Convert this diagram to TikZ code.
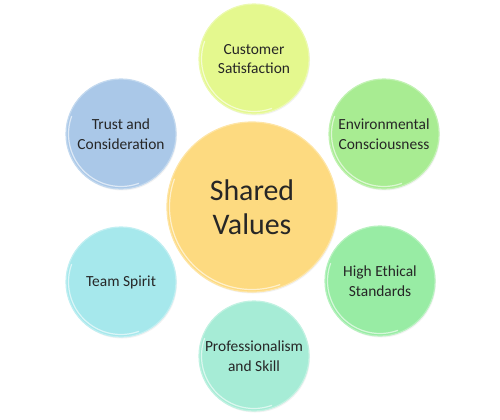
\documentclass[tikz,border=0pt]{standalone}
\usepackage{fontspec}
\setmainfont{Carlito}
\usetikzlibrary{shadows}
\definecolor{cCenter}{RGB}{253,218,128}
\definecolor{cCust}{RGB}{228,248,142}
\definecolor{cEnv}{RGB}{168,236,146}
\definecolor{cHigh}{RGB}{152,236,164}
\definecolor{cProf}{RGB}{166,236,214}
\definecolor{cTeam}{RGB}{166,232,236}
\definecolor{cTrust}{RGB}{170,200,232}
\tikzset{
  bubble/.style={circle, fill=#1, draw=#1!70!white, line width=1.2bp,
    minimum size=110bp, inner sep=0pt, align=center,
    font=\fontsize{15.5}{19.5}\selectfont, text=black!85,
    drop shadow={opacity=0.1, shadow xshift=1bp, shadow yshift=-1.5bp}},
  bigbubble/.style={bubble=#1, minimum size=170bp,
    font=\fontsize{30}{34}\selectfont},
  rim/.style={white, line width=1.2bp, opacity=0.6}
}
\begin{document}
\begin{tikzpicture}[x=1bp,y=-1bp]
  \useasboundingbox (0,0) rectangle (500,419);
  \node[bubble=cCust]  (cust)  at (254,59)  {Customer\\Satisfaction};
  \node[bubble=cEnv]   (env)   at (384,134) {Environmental\\Consciousness};
  \node[bubble=cHigh]  (high)  at (380,281) {High Ethical\\Standards};
  \node[bubble=cProf]  (prof)  at (254,356) {Professionalism\\and Skill};
  \node[bubble=cTeam]  (team)  at (121,282) {Team Spirit};
  \node[bubble=cTrust] (trust) at (121,134) {Trust and\\Consideration};
  \node[bigbubble=cCenter] (center) at (252,207) {Shared\\Values};
  \foreach \n/\r in {cust/52.5,env/52.5,high/52.5,prof/52.5,team/52.5,trust/52.5,center/82.5}{
    \draw[rim] (\n.center) ++(160:\r bp) arc[start angle=160, end angle=290, radius=\r bp];
  }
\end{tikzpicture}
\end{document}
